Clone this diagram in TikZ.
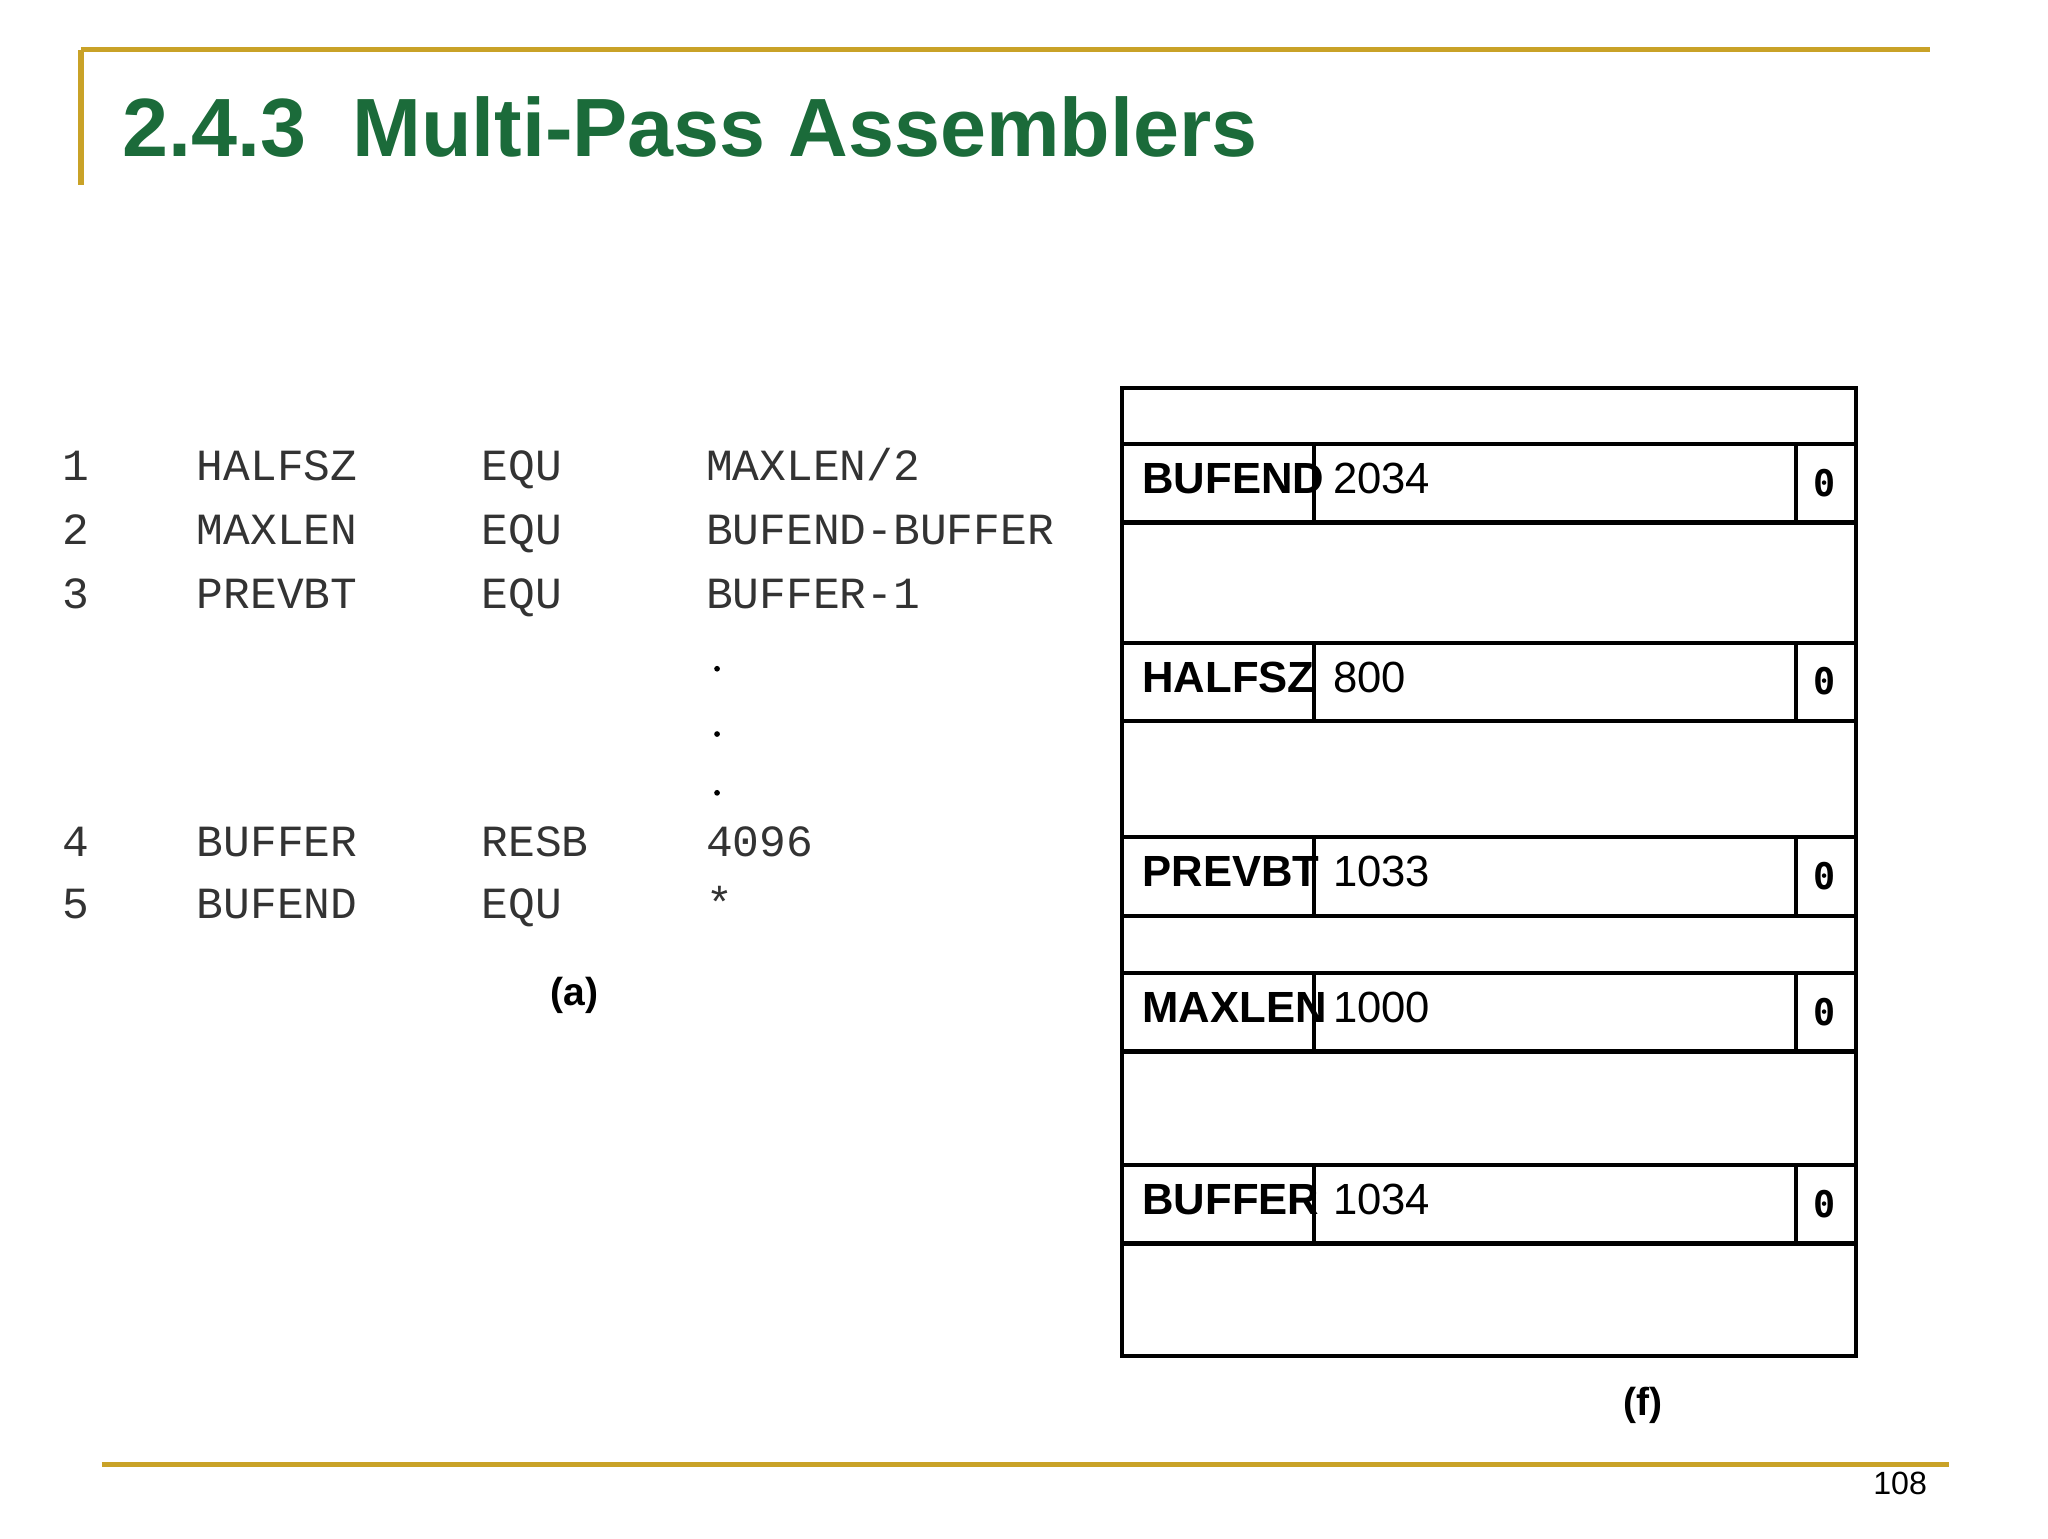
\documentclass[tikz,border=0pt]{standalone}
\usepackage{fontspec}
\setmainfont{Liberation Sans}
\newfontfamily\codefont{Liberation Mono}
\newfontfamily\zfont{DejaVu Sans Mono}
\definecolor{gold}{HTML}{C9A227}
\definecolor{titlegreen}{HTML}{1B6B3A}
\begin{document}
\begin{tikzpicture}[x=0.01cm,y=-0.01cm,
  rule/.style={gold,line width=1.1pt},
  code/.style={anchor=base west,inner sep=0,font=\codefont\fontsize{9.7}{11}\selectfont,text=black!80},
  cell/.style={anchor=base west,inner sep=0,font=\bfseries\fontsize{9.5}{11}\selectfont},
  box/.style={draw,line width=0.9pt}]
\useasboundingbox (0,0) rectangle (1568,1178);
\fill[white] (0,0) rectangle (1568,1178);
% rules
\draw[rule] (62,38) -- (1478,38);
\draw[rule] (62,38) -- (62,142);
\draw[rule] (78,1121) -- (1492,1121);
\node[anchor=base west,inner sep=0,text=titlegreen,font=\bfseries\fontsize{18}{22}\selectfont] (title) at (93,120) {2.4.3\ \ Multi-Pass Assemblers};
\node[anchor=base east,inner sep=0,font=\fontsize{7}{8}\selectfont] (pg) at (1476,1144) {108};
% code
\foreach \y/\n/\l/\o/\v in {368/1/HALFSZ/EQU/MAXLEN\slash 2, 417/2/MAXLEN/EQU/BUFEND-BUFFER, 466/3/PREVBT/EQU/BUFFER-1, 656/4/BUFFER/RESB/4096, 703/5/BUFEND/EQU/*}{
  \node[code] (n\n) at (47,\y) {\n};
  \node[code] (l\n) at (150,\y) {\l};
  \node[code] (o\n) at (368,\y) {\o};
  \node[code] (v\n) at (540,\y) {\v};
}
\foreach \y in {512,562,607}{\fill (549,\y) circle (2.2);}
\node[anchor=base,inner sep=0,font=\bfseries\fontsize{8.5}{10}\selectfont] (a) at (440,770) {(a)};
% table
\draw[box] (859,297) rectangle (1421,1038);
\foreach \t/\n/\v in {340/BUFEND/2034, 492/HALFSZ/800, 641/PREVBT/1033, 745/MAXLEN/1000, 892/BUFFER/1034}{
  \draw[box] (859,\t) rectangle (1421,\t+60);
  \draw[box] (1006,\t) -- (1006,\t+60);
  \draw[box] (1375,\t) -- (1375,\t+60);
  \node[cell] (k\n) at (874,\t+38) {\n};
  \node[cell,font=\fontsize{9.5}{11}\selectfont] (c\n) at (1020,\t+38) {\v};
  \node[cell,anchor=base,font=\zfont\bfseries\fontsize{8}{9}\selectfont] (z\n) at (1397,\t+40) {0};
}
\node[anchor=base,inner sep=0,font=\bfseries\fontsize{8.5}{10}\selectfont] (f) at (1258,1084) {(f)};
\end{tikzpicture}
\end{document}
